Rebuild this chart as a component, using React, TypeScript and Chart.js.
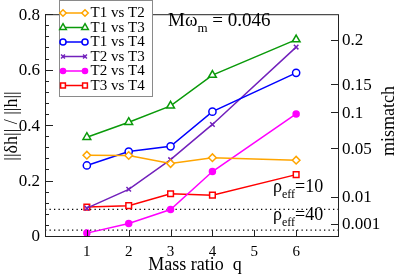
import React, { useEffect, useRef } from 'react';
import { Chart, registerables } from 'chart.js';

Chart.register(...registerables);

// ---- data ----
const massRatios = [1, 2, 3, 4, 6];
const seriesNames = ['T1 vs T2', 'T1 vs T3', 'T1 vs T4', 'T2 vs T3', 'T2 vs T4', 'T3 vs T4'];
const t1t2 = [0.295, 0.294, 0.265, 0.286, 0.277];
const t1t3 = [0.36, 0.414, 0.473, 0.584, 0.712];
const t1t4 = [0.258, 0.308, 0.327, 0.452, 0.592];
const t2t3 = [0.104, 0.172, 0.279, 0.406, 0.685];
const t2t4 = [0.014, 0.049, 0.099, 0.236, 0.444];
const t3t4 = [0.108, 0.113, 0.156, 0.151, 0.225];
const xTickValues = [1, 2, 3, 4, 5, 6];
const yMajorTicks = [0, 0.2, 0.4, 0.6, 0.8];
const mismatchLabels = ['0.2', '0.15', '0.1', '0.05', '0.01', '0.001'];
const mismatchPositions = [0.708, 0.548, 0.447, 0.316, 0.141, 0.045];
const rhoEff = [10, 40];
const mOmega = '0.046';

// ---- styles ----
const colors = ['#ffa500', '#0a9a0a', '#0000ff', '#7221bc', '#ff00ff', '#ff0000'];
const pointStyles = ['rectRot', 'triangle', 'circle', 'crossRot', 'circle', 'rect'];
const pointRadii = [3.8, 4.5, 3.6, 3.2, 3, 4];
const pointFilled = [false, false, false, false, true, false];
const serif = '"Liberation Serif", "Times New Roman", serif';

function drawMarker(ctx: CanvasRenderingContext2D, style: string, x: number, y: number, r: number, color: string, filled: boolean) {
  ctx.save();
  ctx.strokeStyle = color;
  ctx.fillStyle = filled ? color : '#ffffff';
  ctx.lineWidth = 1.5;
  ctx.beginPath();
  if (style === 'circle') {
    ctx.arc(x, y, r, 0, Math.PI * 2);
  } else if (style === 'rect') {
    const s = r * Math.SQRT1_2;
    ctx.rect(x - s, y - s, 2 * s, 2 * s);
  } else if (style === 'rectRot') {
    ctx.moveTo(x, y - r);
    ctx.lineTo(x + r, y);
    ctx.lineTo(x, y + r);
    ctx.lineTo(x - r, y);
    ctx.closePath();
  } else if (style === 'triangle') {
    const h = r * 1.5;
    ctx.moveTo(x, y - r);
    ctx.lineTo(x + r * 0.866, y + r * 0.5);
    ctx.lineTo(x - r * 0.866, y + r * 0.5);
    ctx.closePath();
    void h;
  } else if (style === 'crossRot') {
    const s = r * Math.SQRT1_2;
    ctx.moveTo(x - s, y - s);
    ctx.lineTo(x + s, y + s);
    ctx.moveTo(x - s, y + s);
    ctx.lineTo(x + s, y - s);
    ctx.stroke();
    ctx.restore();
    return;
  }
  ctx.fill();
  ctx.stroke();
  ctx.restore();
}

type Part = { t: string; size: number; dy: number };
function drawRich(ctx: CanvasRenderingContext2D, x: number, y: number, parts: Part[]) {
  let cx = x;
  ctx.textAlign = 'left';
  ctx.textBaseline = 'alphabetic';
  for (const p of parts) {
    ctx.font = `${p.size}px ${serif}`;
    ctx.fillText(p.t, cx, y + p.dy);
    cx += ctx.measureText(p.t).width;
  }
}

const overlayPlugin = {
  id: 'overlay',
  afterDatasetsDraw(chart: any) {
    const ctx: CanvasRenderingContext2D = chart.ctx;
    const { left, right, top, bottom } = chart.chartArea;
    const xs = chart.scales.x;
    const ys = chart.scales.y;
    const ys2 = chart.scales.y2;
    ctx.save();
    ctx.strokeStyle = '#222';
    ctx.lineWidth = 1;
    // frame
    ctx.strokeRect(left + 0.5, top - 0.5, right - left, bottom - top);
    ctx.beginPath();
    // x ticks (inward)
    for (const v of xTickValues) {
      const px = Math.round(xs.getPixelForValue(v)) + 0.5;
      ctx.moveTo(px, bottom);
      ctx.lineTo(px, bottom - 7);
    }
    // left y ticks (inward), minor every 0.04
    for (const t of ys.ticks) {
      const py = Math.round(ys.getPixelForValue(t.value)) - 0.5;
      const major = yMajorTicks.some((m) => Math.abs(m - t.value) < 1e-6);
      ctx.moveTo(left, py);
      ctx.lineTo(left + (major ? 8 : 4), py);
    }
    // right y ticks (inward)
    for (const v of mismatchPositions) {
      const py = Math.round(ys2.getPixelForValue(v)) - 0.5;
      ctx.moveTo(right, py);
      ctx.lineTo(right - 7, py);
    }
    ctx.stroke();

    ctx.fillStyle = '#000';
    // axis titles
    ctx.font = `18px ${serif}`;
    ctx.textAlign = 'center';
    ctx.textBaseline = 'middle';
    ctx.save();
    ctx.translate(12, 126);
    ctx.rotate(-Math.PI / 2);
    ctx.fillText('||δh|| / ||h||', 0, 0);
    ctx.restore();
    ctx.save();
    ctx.translate(389, 121);
    ctx.rotate(-Math.PI / 2);
    ctx.fillText('mismatch', 0, 0);
    ctx.restore();
    ctx.textBaseline = 'alphabetic';
    ctx.fillText('Mass ratio  q', 195, 270);

    // annotations
    drawRich(ctx, 168, 26, [
      { t: 'Mω', size: 19, dy: 0 },
      { t: 'm', size: 13, dy: 6 },
      { t: ' = ' + mOmega, size: 19, dy: 0 },
    ]);
    const rhoY = [192, 220];
    rhoEff.forEach((rho, i) => {
      drawRich(ctx, 273, rhoY[i], [
        { t: 'ρ', size: 18, dy: 0 },
        { t: 'eff', size: 12, dy: 6 },
        { t: '=' + rho, size: 18, dy: 0 },
      ]);
    });

    // legend
    const bx = 59.5, by = 0.5, bw = 93, bh = 96;
    ctx.fillStyle = '#ffffff';
    ctx.fillRect(bx, by, bw, bh);
    ctx.strokeStyle = '#8a8a8a';
    ctx.lineWidth = 1;
    ctx.strokeRect(bx, by, bw, bh);
    seriesNames.forEach((name, i) => {
      const yy = 13 + i * 14.5;
      ctx.strokeStyle = colors[i];
      ctx.lineWidth = 1.5;
      ctx.beginPath();
      ctx.moveTo(63, yy);
      ctx.lineTo(85, yy);
      ctx.stroke();
      drawMarker(ctx, pointStyles[i], 63, yy, pointRadii[i] * 0.85, colors[i], pointFilled[i]);
      drawMarker(ctx, pointStyles[i], 85, yy, pointRadii[i] * 0.85, colors[i], pointFilled[i]);
      ctx.fillStyle = '#000';
      ctx.font = `15px ${serif}`;
      ctx.textAlign = 'left';
      ctx.textBaseline = 'middle';
      ctx.fillText(name, 90.5, yy + 0.5);
    });
    ctx.restore();
  },
};

export default function App() {
  const ref = useRef<HTMLCanvasElement | null>(null);
  useEffect(() => {
    if (!ref.current) return;
    const seriesValues = [t1t2, t1t3, t1t4, t2t3, t2t4, t3t4];
    const datasets: any[] = seriesValues.map((vals, i) => ({
      label: seriesNames[i],
      data: massRatios.map((q, j) => ({ x: q, y: vals[j] })),
      borderColor: colors[i],
      backgroundColor: pointFilled[i] ? colors[i] : '#ffffff',
      pointBorderColor: colors[i],
      pointBackgroundColor: pointFilled[i] ? colors[i] : '#ffffff',
      pointStyle: pointStyles[i],
      pointRadius: pointRadii[i],
      pointBorderWidth: 1.5,
      borderWidth: 1.5,
      tension: 0,
      fill: false,
    }));
    rhoEff.forEach((rho) => {
      datasets.push({
        label: 'rho' + rho,
        data: [
          { x: 0, y: 1 / rho },
          { x: 7, y: 1 / rho },
        ],
        borderColor: '#000',
        borderWidth: 1.3,
        borderDash: [1.3, 3.2],
        pointRadius: 0,
        fill: false,
      });
    });
    const chart = new Chart(ref.current, {
      type: 'line',
      data: { datasets },
      plugins: [overlayPlugin],
      options: {
        animation: false,
        responsive: false,
        devicePixelRatio: 1,
        layout: { padding: { top: 7, left: 0, right: 0, bottom: 0 } },
        plugins: { legend: { display: false }, tooltip: { enabled: false } },
        scales: {
          x: {
            type: 'linear',
            min: 0,
            max: 7,
            afterBuildTicks: (s: any) => {
              s.ticks = xTickValues.map((v) => ({ value: v }));
            },
            afterFit: (s: any) => {
              s.height = 39;
            },
            grid: { display: false, drawTicks: false },
            border: { display: false },
            ticks: {
              autoSkip: false,
              maxRotation: 0,
              padding: 6,
              color: '#000',
              font: { family: serif, size: 15 },
              callback: (v: any) => String(v),
            },
          },
          y: {
            type: 'linear',
            position: 'left',
            min: 0,
            max: 0.8,
            ticks: {
              stepSize: 0.04,
              autoSkip: false,
              padding: 5,
              color: '#000',
              font: { family: serif, size: 17 },
              callback: (v: any) => {
                const m = yMajorTicks.find((t) => Math.abs(t - v) < 1e-6);
                return m === undefined ? '' : m === 0 ? '0' : String(m);
              },
            },
            afterFit: (s: any) => {
              s.width = 45;
            },
            grid: { display: false, drawTicks: false },
            border: { display: false },
          },
          y2: {
            type: 'linear',
            position: 'right',
            min: 0,
            max: 0.8,
            afterBuildTicks: (s: any) => {
              s.ticks = mismatchPositions.map((v) => ({ value: v }));
            },
            ticks: {
              autoSkip: false,
              padding: 4,
              color: '#000',
              font: { family: serif, size: 17 },
              callback: (_v: any, i: number) => mismatchLabels[i],
            },
            afterFit: (s: any) => {
              s.width = 61;
            },
            grid: { display: false, drawTicks: false },
            border: { display: false },
          },
        },
      } as any,
    });
    return () => chart.destroy();
  }, []);
  return (
    <div style={{ position: 'absolute', left: 0, top: 0, width: 399, height: 276, background: '#fff' }}>
      <canvas ref={ref} width={399} height={276} style={{ display: 'block' }} />
    </div>
  );
}
